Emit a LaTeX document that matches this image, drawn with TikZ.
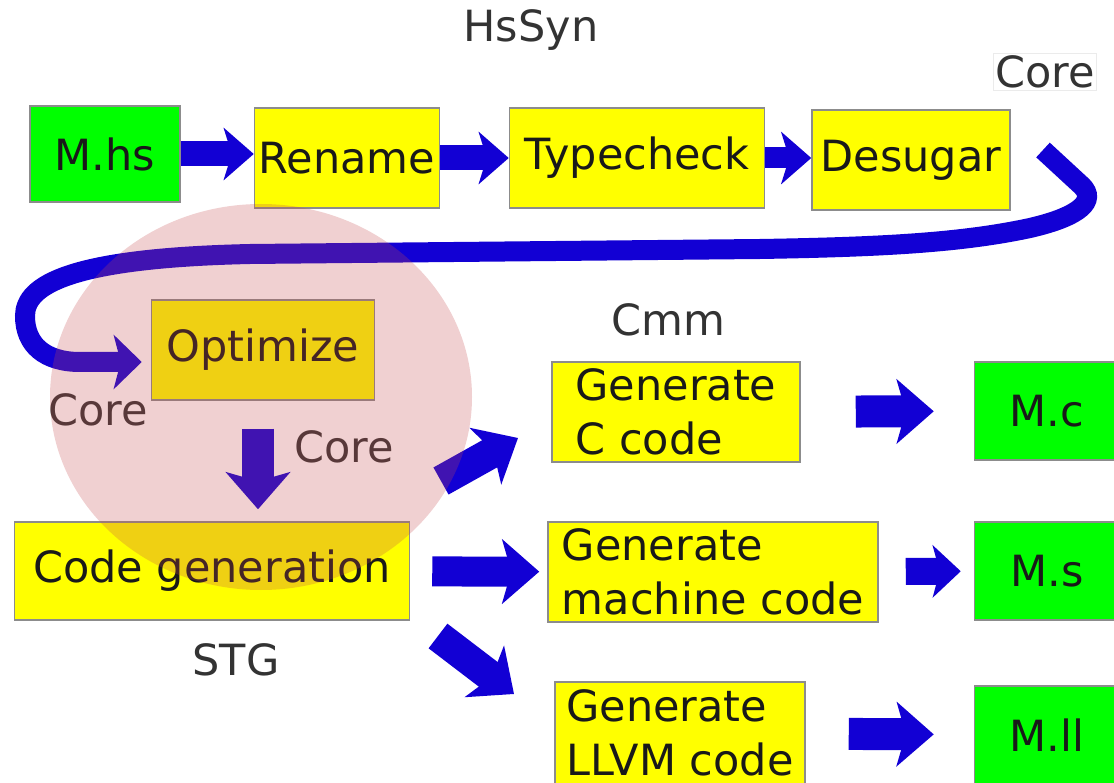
\documentclass[tikz,border=0pt]{standalone}
\usepackage{fontspec}
\setmainfont{DejaVu Sans}
\usetikzlibrary{arrows.meta}

\definecolor{boxyellow}{RGB}{255,255,0}
\definecolor{boxgreen}{RGB}{0,255,0}
\definecolor{arrowblue}{RGB}{18,0,212}
\definecolor{lensred}{RGB}{197,74,77}
\definecolor{taggray}{RGB}{51,51,51}

\newcommand\stagefont{\fontsize{43}{54}\selectfont}

\begin{document}
\begin{tikzpicture}[x=1pt, y=-1pt,
    stage/.style={draw=black!45, line width=1.5pt, fill=boxyellow, text=black!90,
        inner sep=3pt, minimum height=100pt, align=left, font=\stagefont},
    file/.style={stage, fill=boxgreen, minimum width=145pt, minimum height=98pt},
    tag/.style={text=taggray, inner sep=2pt, font=\stagefont},
    toparrow/.style={draw=arrowblue, line width=25pt, -{Stealth[length=30pt, width=52pt, inset=8pt]}},
    bigarrow/.style={draw=arrowblue, line width=32pt, -{Stealth[length=37pt, width=64pt, inset=9pt]}},
    looparrow/.style={draw=arrowblue, line width=20pt, -{Stealth[length=28pt, width=54pt, inset=7pt]}}]

    \useasboundingbox (0,0) rectangle (1114,783);

    % draw top row
    \node[file, minimum width=150pt, minimum height=96pt] (mhs) at (105,154) {M.hs};
    \node[stage, minimum width=185pt] (rename) at (347,158) {Rename};
    \node[stage, minimum width=255pt] (typecheck) at (637,158) {Typecheck};
    \node[stage, minimum width=198pt] (desugar) at (911,160) {Desugar};

    \draw[toparrow] (mhs.east) -- (mhs.east -| rename.west);
    \draw[toparrow] (rename) -- (typecheck);
    \draw[toparrow, line width=21pt] (typecheck.east) -- (typecheck.east -| desugar.west);

    % draw loop back to optimize
    \node[stage, minimum width=223pt] (optimize) at (263,350) {Optimize};
    \coordinate (loopstart) at (1043,150);
    \draw[looparrow, shorten >=9pt] (loopstart) -- (1082,186)
        .. controls (1096,200) and (1082,216) .. (1030,228)
        .. controls (960,243) and (880,247) .. (760,249)
        -- (250,254)
        .. controls (70,258) and (25,285) .. (25,316)
        .. controls (25,345) and (45,362) .. (80,362)
        -- ([yshift=-12pt]optimize.west);

    % draw code generation
    \node[stage, minimum width=395pt, minimum height=98pt] (codegen) at (212,571) {Code generation};
    \draw[bigarrow, shorten <=28pt, shorten >=12pt]
        ([xshift=-5pt]optimize.south) -- ([xshift=-5pt]optimize.south |- codegen.north);

    % draw back ends
    \node[stage, minimum width=248pt] (genc) at (676,412) {Generate\\C code};
    \node[stage, minimum width=330pt] (genasm) at (713,572) {Generate\\machine code};
    \node[stage, minimum width=250pt, minimum height=102pt] (genllvm) at (680,733) {Generate\\LLVM code};

    \coordinate (upfrom) at (441,481);
    \coordinate (upto) at (518,438);
    \coordinate (downfrom) at (438,636);
    \coordinate (downto) at (514,694);
    \draw[bigarrow, line width=31pt] (upfrom) -- (upto);
    \draw[bigarrow, line width=30pt, shorten <=22pt, shorten >=8pt] (codegen) -- (genasm);
    \draw[bigarrow, line width=31pt] (downfrom) -- (downto);

    % draw output files
    \node[file] (mc) at (1047,411) {M.c};
    \node[file] (ms) at (1047,571) {M.s};
    \node[file] (mll) at (1047,735) {M.ll};

    \draw[bigarrow, shorten <=55pt, shorten >=40pt] (genc) -- (mc);
    \draw[bigarrow, line width=27pt, -{Stealth[length=28pt, width=52pt, inset=7pt]},
        shorten <=27pt, shorten >=13pt] (genasm) -- (ms);
    \draw[bigarrow, shorten <=43pt, shorten >=40pt] (genllvm) -- (mll);

    % draw symbols
    \node[tag] (hssyn) at (531,30) {HsSyn};
    \node[tag, fill=white, draw=black!8, line width=0.8pt] (coredesugar) at (1045,72) {Core};
    \node[tag] (coreopt) at (98,410) {Core};
    \node[tag] (corecg) at (344,447) {Core};
    \node[tag] (cmm) at (668,320) {Cmm};
    \node[tag] (stg) at (236,660) {STG};

    % draw highlight
    \fill[lensred, opacity=0.26] (261,397) ellipse [x radius=211pt, y radius=193pt];
\end{tikzpicture}
\end{document}
